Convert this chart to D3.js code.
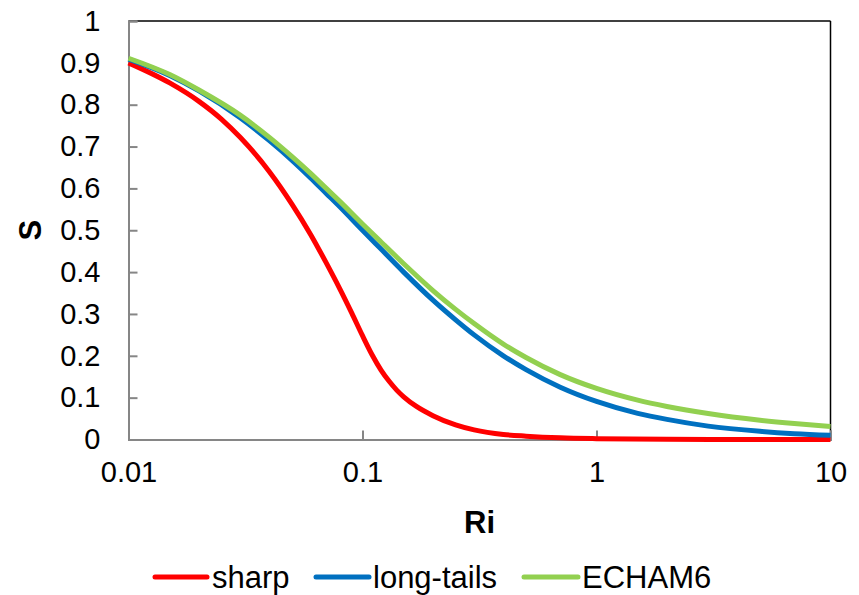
<!DOCTYPE html>
<html>
<head>
<meta charset="utf-8">
<script src="https://cdn.jsdelivr.net/npm/d3@7"></script>
<style>
  html, body { margin: 0; padding: 0; background: #fff; }
  svg text { font-family: "Liberation Sans", Arial, sans-serif; fill: #000; }
</style>
</head>
<body>
<svg id="chart" width="859" height="595"></svg>
<script>
// Stability function S against Richardson number Ri
const riSharp = [0.01, 0.015, 0.02, 0.025, 0.03, 0.04, 0.05, 0.06, 0.07, 0.08, 0.09, 0.1, 0.11, 0.12, 0.13, 0.14, 0.15, 0.17, 0.2, 0.25, 0.3, 0.4, 0.5, 0.7, 1, 2, 5, 10];
const sharp   = [0.900, 0.852, 0.808, 0.765, 0.722, 0.640, 0.562, 0.490, 0.422, 0.360, 0.302, 0.248, 0.202, 0.166, 0.139, 0.118, 0.102, 0.079, 0.057, 0.035, 0.023, 0.012, 0.008, 0.004, 0.002, 0.0005, 0.0001, 0.0];

const riSmooth  = [0.01, 0.015, 0.02, 0.03, 0.04, 0.05, 0.06, 0.07, 0.08, 0.1, 0.12, 0.15, 0.2, 0.25, 0.3, 0.4, 0.5, 0.7, 1, 1.5, 2, 3, 5, 7, 10];
const longTails = [0.909, 0.870, 0.833, 0.769, 0.714, 0.667, 0.625, 0.588, 0.556, 0.500, 0.455, 0.400, 0.333, 0.286, 0.250, 0.200, 0.167, 0.125, 0.091, 0.0625, 0.048, 0.032, 0.0196, 0.014, 0.0099];
const echam6    = [0.911, 0.872, 0.835, 0.775, 0.722, 0.676, 0.636, 0.600, 0.569, 0.515, 0.472, 0.420, 0.356, 0.311, 0.277, 0.228, 0.196, 0.155, 0.122, 0.094, 0.079, 0.062, 0.046, 0.038, 0.031];

const xTicks = [0.01, 0.1, 1, 10];
const xTickLabels = ["0.01", "0.1", "1", "10"];
const yTicks = [0, 0.1, 0.2, 0.3, 0.4, 0.5, 0.6, 0.7, 0.8, 0.9, 1];
const yTickLabels = ["0", "0.1", "0.2", "0.3", "0.4", "0.5", "0.6", "0.7", "0.8", "0.9", "1"];

const seriesNames  = ["sharp", "long-tails", "ECHAM6"];
const seriesColors = ["#ff0000", "#0070c0", "#92d050"];
const seriesX = [riSharp, riSmooth, riSmooth];
const seriesY = [sharp, longTails, echam6];

const svg = d3.select("#chart");
const plot = { left: 128.5, right: 830.5, top: 21, bottom: 439.5 };

const x = d3.scaleLog().domain([0.01, 10]).range([plot.left, plot.right]);
const y = d3.scaleLinear().domain([0, 1]).range([plot.bottom, plot.top]);

// frame: black top/right borders
svg.append("line").attr("x1", plot.left).attr("x2", plot.right).attr("y1", plot.top).attr("y2", plot.top)
  .attr("stroke", "#000").attr("stroke-width", 1.5);
svg.append("line").attr("x1", plot.right).attr("x2", plot.right).attr("y1", plot.top).attr("y2", plot.bottom)
  .attr("stroke", "#000").attr("stroke-width", 1.5);

// y axis: ticks point inward
const yAxis = d3.axisLeft(y).tickValues(yTicks).tickSize(-9).tickPadding(0)
  .tickFormat((d, i) => yTickLabels[i]);
const gy = svg.append("g").attr("transform", `translate(${plot.left},0)`).call(yAxis);
gy.select(".domain").attr("stroke", "#868686").attr("stroke-width", 2);
gy.selectAll(".tick line").attr("stroke", "#868686").attr("stroke-width", 2);
gy.selectAll(".tick text").attr("x", -28).attr("font-size", 29)
  .attr("font-family", "Liberation Sans, Arial, sans-serif").attr("fill", "#000");

// x axis: ticks point inward
const xAxis = d3.axisBottom(x).tickValues(xTicks).tickSize(-9).tickPadding(0)
  .tickFormat((d, i) => xTickLabels[i]);
const gx = svg.append("g").attr("transform", `translate(0,${plot.bottom})`).call(xAxis);
gx.select(".domain").attr("stroke", "#868686").attr("stroke-width", 2);
gx.selectAll(".tick line").attr("stroke", "#868686").attr("stroke-width", 2);
gx.selectAll(".tick text").attr("y", 22).attr("font-size", 29)
  .attr("font-family", "Liberation Sans, Arial, sans-serif").attr("fill", "#000");

// axis titles
svg.append("text").attr("x", (plot.left + plot.right) / 2).attr("y", 533)
  .attr("text-anchor", "middle").attr("font-size", 31).attr("font-weight", "bold").text("Ri");
svg.append("text").attr("transform", `translate(41,${(plot.top + plot.bottom) / 2}) rotate(-90)`)
  .attr("text-anchor", "middle").attr("font-size", 31).attr("font-weight", "bold").text("S");

// curves
const line = d3.line().x(d => x(d[0])).y(d => y(d[1])).curve(d3.curveMonotoneX);
seriesNames.forEach((name, i) => {
  const pts = seriesX[i].map((r, j) => [r, seriesY[i][j]]);
  svg.append("path").datum(pts).attr("d", line)
    .attr("fill", "none").attr("stroke", seriesColors[i]).attr("stroke-width", 5)
    .attr("stroke-linejoin", "round");
});

// legend
const legendItems = [
  { x0: 155, x1: 207, tx: 212 },
  { x0: 316, x1: 369, tx: 373 },
  { x0: 524, x1: 578, tx: 582 }
];
const legendY = 577;
legendItems.forEach((it, i) => {
  svg.append("line").attr("x1", it.x0).attr("x2", it.x1).attr("y1", legendY).attr("y2", legendY)
    .attr("stroke", seriesColors[i]).attr("stroke-width", 5).attr("stroke-linecap", "round");
  svg.append("text").attr("x", it.tx).attr("y", legendY + 11).attr("font-size", 31).text(seriesNames[i]);
});
</script>
</body>
</html>
